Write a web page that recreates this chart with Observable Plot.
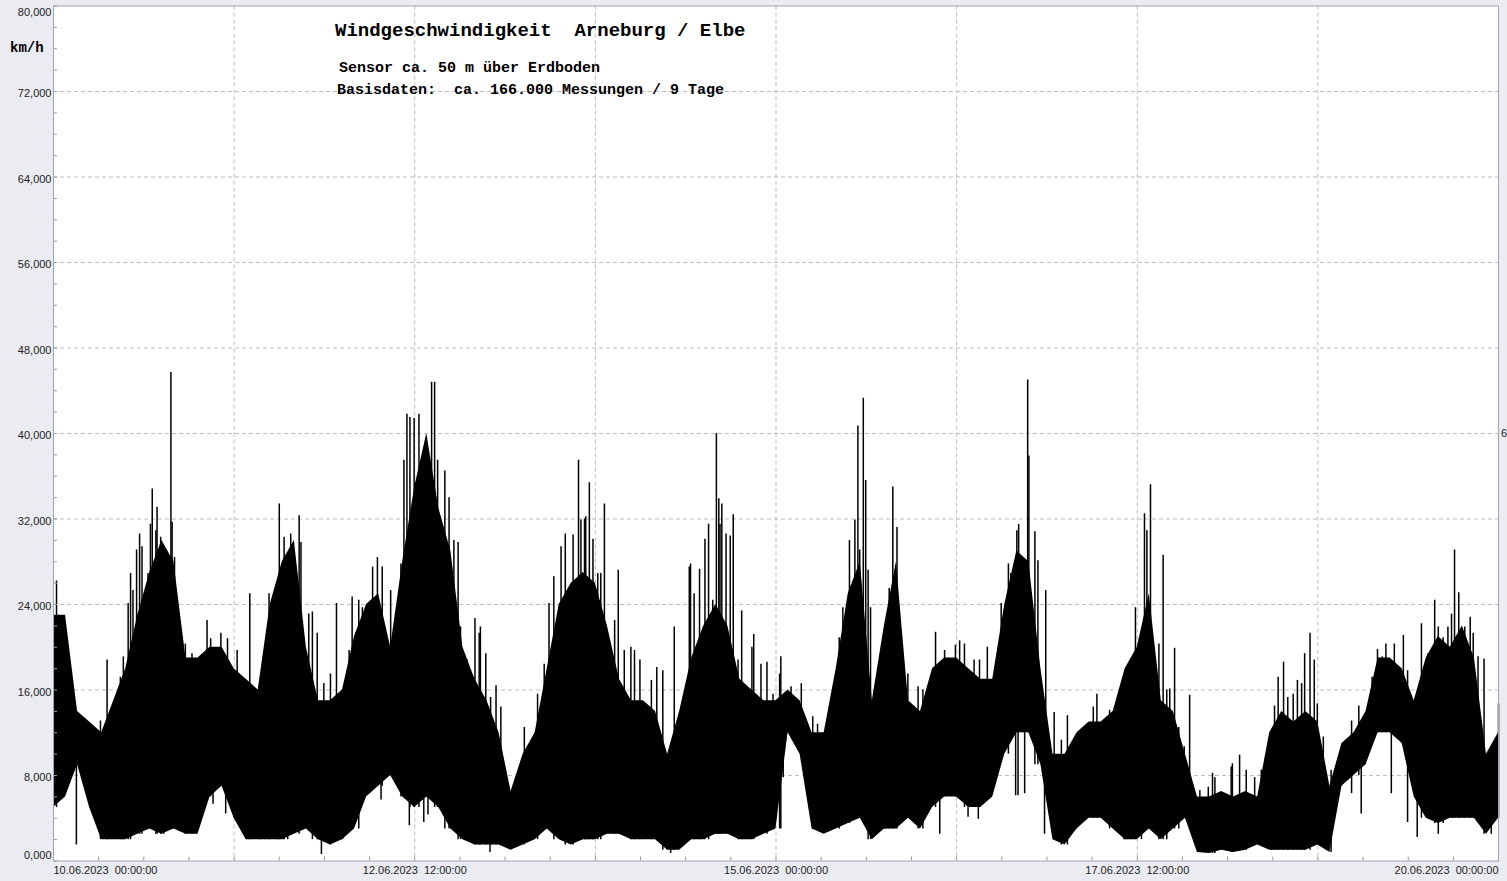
<!DOCTYPE html>
<html><head><meta charset="utf-8">
<script src="https://cdn.jsdelivr.net/npm/d3@7"></script>
<script src="https://cdn.jsdelivr.net/npm/@observablehq/plot@0.6"></script>
<style>
body{margin:0;background:#eaecf2;}
#wrap{position:relative;width:1507px;height:881px;overflow:hidden;background:#eaecf2;}
.t{position:absolute;font-family:"Liberation Mono","DejaVu Sans Mono",monospace;font-weight:bold;color:#000;white-space:pre;line-height:1;}
.s{position:absolute;font-family:"Liberation Sans",Arial,sans-serif;font-size:11px;color:#222;white-space:pre;line-height:1;}
</style></head><body><div id="wrap"></div>
<script>
// time in hours since 10.06.2023 00:00, every 2 hours
const hours = d3.range(0, 241, 2);
// upper edge of the dense measurement band (km/h)
const hiVals = [23000,23000,14000,13000,12000,15000,18000,23000,27000,30000,28000,19000,19000,20000,20000,18000,17000,16000,24000,28000,30000,
  20000,15000,15000,16000,21000,24000,25000,20000,28000,35000,40000,33000,29000,20000,17000,15000,12000,6500,10000,12000,
  18000,24000,26000,27000,26000,22000,17000,15000,15000,14000,10000,14000,19000,22000,24000,22000,17000,16000,15000,15000,
  16000,15000,12000,12000,18000,25000,28000,15000,22000,28000,15000,14000,18000,19000,19000,18000,17000,17000,24000,29000,
  28000,18000,10000,10000,12000,13000,13000,14000,18000,20000,25000,15000,14000,10000,6000,6000,6500,6000,6500,6000,
  12000,14000,13000,14000,13000,7000,11000,12000,14000,19000,19000,18000,15000,19000,21000,20000,22000,19000,10000,12000];
// lower edge of the dense measurement band (km/h)
const loVals = [5000,6000,9000,5000,2000,2000,2000,2500,3000,2500,3000,2500,2500,6000,7000,4000,2000,2000,2000,2000,2500,
  3000,2000,1500,2000,3000,6000,7000,8000,6000,5000,6000,5000,3000,2000,1500,1500,1500,1000,1500,2000,
  3000,2000,1500,2000,2000,2500,2500,2000,2000,2000,1000,1000,2000,2000,2500,2500,2000,2000,2500,3000,
  12000,10000,3000,2500,3000,3500,4000,2000,3000,3000,4000,3000,5000,6000,6000,5000,5000,6000,10000,12000,
  12000,9000,2000,1500,3000,4000,4000,3000,2000,2000,3000,2000,3000,4000,800,700,1000,800,1000,1500,
  1000,1000,1000,1000,1500,800,7000,8000,9000,12000,12000,11000,6000,4000,3500,4000,4000,4000,2500,4000];
// isolated gusts above the band: hour and km/h
const spikeH = [0.5,7.8,8.9,11.1,11.6,12.4,12.8,13.2,13.8,14.3,14.7,15.7,16.1,16.4,17.0,17.2,17.8,18.3,19.5,19.7,20.1,20.4,21.9,23.0,25.5,26.1,27.8,28.9,30.5,32.6,34.3,35.2,35.8,37.0,37.5,38.1,38.3,38.9,39.4,40.8,
  41.1,42.4,43,43.8,44.9,46.0,47,48.0,49.1,49.6,50.7,51.3,53.0,53.8,54.6,56,57.7,58.2,58.7,59.2,59.9,60.7,61.2,62,62.1,62.8,63.3,63.8,64.2,64.6,65,65.7,66.5,67.2,67.6,68.7,70,70.7,70.9,71.8,72.6,73.5,74.3,78.2,79.3,80.4,
  81.5,82.3,83.1,84.3,85,86.3,87.2,87.6,88.2,88.4,89,89.6,90.4,90.9,91.5,93.2,93.8,94.8,95.9,96.5,97.4,99.3,100.2,101.2,103.1,105.6,105.8,106.4,107.3,108.2,108.8,109.5,110.1,110.5,110.7,111,111.7,112.4,112.9,113.7,114.3,116.0,116.3,117.5,118.5,119.5,120.6,
  120.8,122.5,124.2,126.1,126.9,129.1,130.5,131.1,132.2,133.1,133.6,133.9,134.5,134.9,135.3,135.7,138.0,138.3,138.8,139.4,140.1,141.1,141.9,143.6,144.4,146.5,148.0,149.8,150.5,151.3,152.9,153.8,155.1,157.4,158.6,159.0,
  159.6,160,160.3,161.0,161.8,162,163,163.5,164.8,166.2,167.4,168.4,171.7,172.7,173.3,175.4,177.8,178.2,178.9,179.7,180.7,181.2,181.6,182.2,182.9,183.6,184.3,184.9,185.4,186.2,186.9,187.8,188.7,190.4,191.8,192.5,192.9,194.5,195.6,195.8,197,198.1,199.5,
  200.6,202.3,202.8,203.4,204.3,205.0,205.9,206.6,207.3,207.8,208.7,209.4,209.9,210.9,212.2,213.9,215.6,216.8,217.8,219.0,219.9,220.7,221.3,222.7,224.2,224.9,226.6,227.2,228.3,229.4,230.0,230.8,231.6,232.2,232.7,233.4,234.4,235.3,235.8,236.6,237.6,238.8,240];
const spikeV = [26200,13100,18800,17200,19100,24100,26900,25300,29100,30600,29400,26900,31500,34800,30900,33100,30300,28400,45700,31700,28400,22000,20300,19400,22500,20800,21300,20800,19700,25000,15600,18800,25000,20900,33400,27500,30300,28400,30600,32300,
  29800,23100,23300,21300,16600,17500,24100,15300,19700,24700,24400,23700,27500,28400,27500,25300,27800,37500,41800,41500,41400,41800,36200,37500,36800,44800,44800,37500,32200,30900,36500,34000,30000,29800,21900,18800,22700,21300,21900,19400,15300,16400,14400,12500,11000,15600,
  18400,24100,26600,29400,30600,30500,37500,31900,32000,32200,35400,30100,26900,26900,33400,22500,27200,19700,20000,19700,18800,16900,18100,17800,21900,27500,27800,25000,27300,30100,31500,24400,40000,33900,31500,33400,30600,30400,32400,18800,23400,20000,21200,18400,18600,15600,17500,
  19100,16300,16600,13500,12800,13800,20900,23700,30000,31900,40700,29100,43300,35600,27200,23700,14400,20300,25500,35000,31200,17200,17500,16300,16000,21400,19700,20200,20600,20300,18800,18800,20000,24100,27800,26900,
  25000,30900,31500,27500,45000,37900,30800,28100,25300,13900,11300,13600,11300,14400,15600,14100,16300,17800,18800,23700,20900,32500,30900,35200,15600,20300,28600,16000,16100,19900,12500,10700,15500,6600,6900,8200,7800,6300,8800,9100,9900,8500,7800,
  8500,11300,14500,17200,18600,15300,15600,16900,16600,19400,21300,18800,14700,11600,8500,10300,13100,14500,13800,17200,19800,19100,20300,20300,21100,17800,15600,22200,19400,24400,21900,20900,21900,23100,29100,25100,21900,22800,21300,19100,18900,8200,14700];
// isolated lulls below the band: hour and km/h
const dropH = [3.8,26.5,28.6,44.5,54.4,56.8,59.1,61.5,62.2,72.5,102.5,121.2,147.2,151.9,153.6,159.8,160.2,161.3,164.6,215.6,217.2,222.2,224.9,226.5,230.0];
const dropV = [1500,5300,4400,600,5700,7400,3300,3600,4300,800,700,7800,2500,4100,3900,6100,6100,6300,2500,6300,4400,6300,3600,2200,2500];
// axis
const yMajor = [0,8000,16000,24000,32000,40000,48000,56000,64000,72000,80000];
const yMinor = d3.range(0, 80001, 2000);
const xGrid = [30,60,90,120,150,180,210];
const xMinor = d3.range(0, 240.1, 7.5);
const xTickH = [0,60,120,180,240];
const xTickLabels = ["10.06.2023  00:00:00","12.06.2023  12:00:00","15.06.2023  00:00:00","17.06.2023  12:00:00","20.06.2023  00:00:00"];

const rows = hours.map((h,i)=>({h, hi:hiVals[i], lo:loVals[i]}));
const baseAt = h => loVals[Math.min(loVals.length-1, Math.round(h/2))];
const spikes = spikeH.map((h,i)=>({h, v:spikeV[i], b:baseAt(h)}));
const drops = dropH.map((h,i)=>({h, v:dropV[i], b:baseAt(h)+2000}));
const xl = xTickH.map((h,i)=>({h, t:xTickLabels[i]}));
const yfmt = d=>(d/1000).toFixed(0)+",000";

const chart = Plot.plot({
  width:1507, height:881,
  marginLeft:53, marginRight:9, marginTop:5.5, marginBottom:20.5,
  style:{background:"transparent", fontFamily:"'Liberation Sans',Arial,sans-serif", fontSize:"11px", color:"#222", overflow:"visible"},
  x:{domain:[0,240], axis:null},
  y:{domain:[0,80000], axis:null},
  marks:[
    Plot.frame({fill:"white", stroke:null}),
    Plot.ruleY(yMajor.slice(1,-1), {stroke:"#bdbdbd", strokeDasharray:"4,3"}),
    Plot.ruleX(xGrid, {stroke:"#bdbdbd", strokeDasharray:"4,3"}),
    Plot.areaY(rows, {x:"h", y1:"lo", y2:"hi", fill:"black"}),
    Plot.ruleX(spikes, {x:"h", y1:"b", y2:"v", stroke:"black", strokeWidth:1.5}),
    Plot.ruleX(drops, {x:"h", y1:"b", y2:"v", stroke:"black", strokeWidth:1.5}),
    Plot.axisY({ticks:yMinor, tickSize:-4, tickFormat:()=>"", stroke:"#9a9a9a", label:null}),
    Plot.axisY({ticks:yMajor.slice(1,-1), tickSize:0, tickPadding:2, dy:2, fill:"#222", tickFormat:yfmt, label:null}),
    Plot.axisY({ticks:yMajor.slice(-1), tickSize:0, tickPadding:2, dy:6, fill:"#222", tickFormat:yfmt, label:null}),
    Plot.axisY({ticks:yMajor.slice(0,1), tickSize:0, tickPadding:2, dy:-6, fill:"#222", tickFormat:yfmt, label:null}),
    Plot.axisX({ticks:xMinor, tickSize:-4, tickFormat:()=>"", stroke:"#9a9a9a", label:null}),
    Plot.text(xl.slice(0,1), {x:"h", text:"t", frameAnchor:"bottom", dy:13, textAnchor:"start", fill:"#222"}),
    Plot.text(xl.slice(1,4), {x:"h", text:"t", frameAnchor:"bottom", dy:13, textAnchor:"middle", fill:"#222"}),
    Plot.text(xl.slice(4), {x:"h", text:"t", frameAnchor:"bottom", dy:13, textAnchor:"end", fill:"#222"}),
    Plot.frame({stroke:"#a0a4ab"})
  ]
});
const wrap = document.getElementById("wrap");
wrap.appendChild(chart);
function addText(cls, txt, left, top, size){
  const d=document.createElement("div"); d.className=cls; d.textContent=txt;
  d.style.left=left+"px"; d.style.top=top+"px"; if(size) d.style.fontSize=size+"px";
  wrap.appendChild(d);
}
addText("t","Windgeschwindigkeit  Arneburg / Elbe",335,22,19);
addText("t","Sensor ca. 50 m über Erdboden",339,61,15);
addText("t","Basisdaten:  ca. 166.000 Messungen / 9 Tage",337,83,15);
addText("t","km/h",10,41,14);
addText("s","6",1501,428);
</script></body></html>
